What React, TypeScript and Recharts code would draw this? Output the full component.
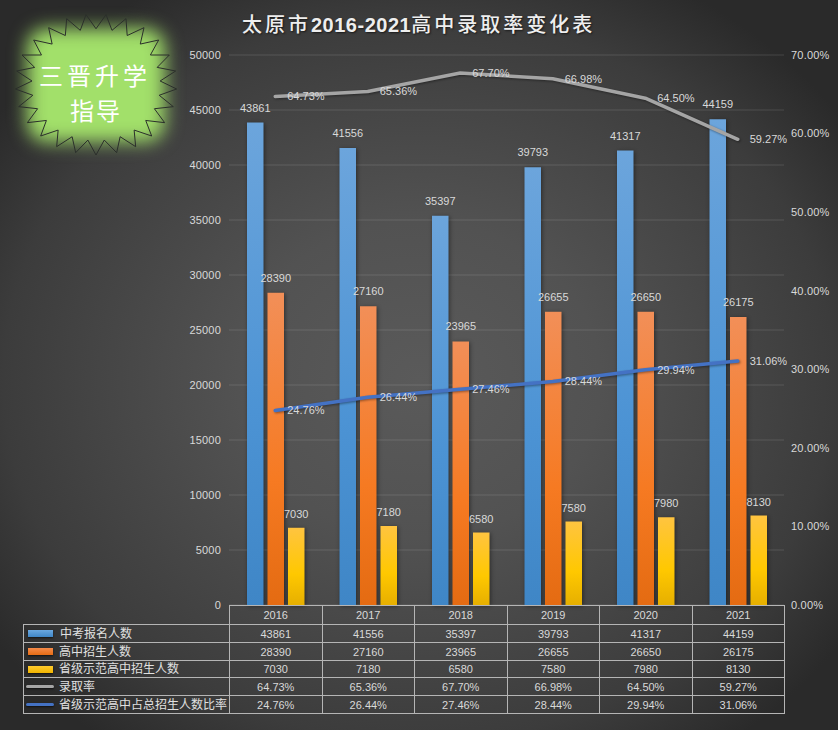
import React from 'react';
import { ComposedChart, Bar, Line, XAxis, YAxis, CartesianGrid, LabelList } from 'recharts';

const years = ['2016', '2017', '2018', '2019', '2020', '2021'];
const applicants = [43861, 41556, 35397, 39793, 41317, 44159];
const enrolled = [28390, 27160, 23965, 26655, 26650, 26175];
const provincial = [7030, 7180, 6580, 7580, 7980, 8130];
const admitRate = [64.73, 65.36, 67.7, 66.98, 64.5, 59.27];
const provincialShare = [24.76, 26.44, 27.46, 28.44, 29.94, 31.06];
const leftTicks = [0, 5000, 10000, 15000, 20000, 25000, 30000, 35000, 40000, 45000, 50000];
const rightTicks = [0, 10, 20, 30, 40, 50, 60, 70];
const starOuter = [
  [258, 44], [318, 44], [378, 56], [432, 83], [476, 120], [508, 165], [527, 213], [530, 267], [520, 320],
  [494, 368], [455, 408], [407, 440], [350, 458], [288, 465], [227, 458], [170, 440], [122, 408], [82, 368],
  [56, 320], [46, 267], [50, 213], [66, 165], [101, 120], [146, 83], [200, 56],
];

const chartData = years.map((year, i) => ({
  year,
  applicants: applicants[i],
  enrolled: enrolled[i],
  provincial: provincial[i],
  admitRate: admitRate[i],
  provincialShare: provincialShare[i],
}));

const FONT = '"Liberation Sans", "Noto Sans CJK SC", sans-serif';
const TEXT = '#d9d9d9';
const pct = (v: number) => `${v.toFixed(2)}%`;

const tableRows = [
  { name: '中考报名人数', kind: 'bar', css: 'linear-gradient(#6ba8e0,#3f86c6)', values: applicants.map(String) },
  { name: '高中招生人数', kind: 'bar', css: 'linear-gradient(#f58b4a,#e66c14)', values: enrolled.map(String) },
  { name: '省级示范高中招生人数', kind: 'bar', css: 'linear-gradient(#ffcb2e,#f0b400)', values: provincial.map(String) },
  { name: '录取率', kind: 'line', css: '#a5a5a5', values: admitRate.map(pct) },
  { name: '省级示范高中占总招生人数比率', kind: 'line', css: '#4472c4', values: provincialShare.map(pct) },
];
const rowHeights = [19, 18, 18, 17, 18, 18];

function Star() {
  const cx = 288, cy = 255;
  const pts: string[] = [];
  starOuter.forEach((p, i) => {
    const n = starOuter[(i + 1) % starOuter.length];
    pts.push(`${p[0] / 3},${p[1] / 3}`);
    const mx = cx + ((p[0] + n[0]) / 2 - cx) * 0.8;
    const my = cy + ((p[1] + n[1]) / 2 - cy) * 0.8;
    pts.push(`${mx / 3},${my / 3}`);
  });
  return (
    <>
      <div style={{ position: 'absolute', left: 27, top: 28, width: 138, height: 114, background: '#a2e06a', borderRadius: 20, filter: 'blur(9px)' }} />
      <svg width={200} height={170} style={{ position: 'absolute', left: 0, top: 0 }}>
        <polygon points={pts.join(' ')} fill="none" stroke="#2b2f2b" strokeWidth={1} />
      </svg>
      <div style={{ position: 'absolute', left: 0, width: 190, top: 60, textAlign: 'center', color: '#fff', fontSize: 24, lineHeight: '30px', letterSpacing: 4, fontFamily: '"Noto Sans CJK SC", sans-serif' }}>三晋升学</div>
      <div style={{ position: 'absolute', left: 0, width: 192, top: 95, textAlign: 'center', color: '#fff', fontSize: 24, lineHeight: '30px', letterSpacing: 2, fontFamily: '"Noto Sans CJK SC", sans-serif' }}>指导</div>
    </>
  );
}

function DataTable() {
  const cell: React.CSSProperties = { border: '1px solid #b5b5b5', padding: 0, textAlign: 'center', color: TEXT, fontSize: 11, lineHeight: '14px', fontFamily: FONT, boxSizing: 'border-box', whiteSpace: 'nowrap', overflow: 'hidden' };
  return (
    <table style={{ position: 'absolute', left: 23, top: 605, width: 761, borderCollapse: 'collapse', tableLayout: 'fixed' }}>
      <colgroup>
        <col style={{ width: 206 }} />
        {years.map((y) => <col key={y} style={{ width: 92.5 }} />)}
      </colgroup>
      <tbody>
        <tr style={{ height: rowHeights[0] }}>
          <td style={{ padding: 0, borderBottom: '1px solid #b5b5b5' }} />
          {years.map((y) => <td key={y} style={cell}>{y}</td>)}
        </tr>
        {tableRows.map((r, i) => (
          <tr key={r.name} style={{ height: rowHeights[i + 1] }}>
            <td style={{ ...cell, textAlign: 'left', fontSize: 12, position: 'relative', paddingLeft: 35 }}>
              <span style={{ position: 'absolute', left: r.kind === 'bar' ? 4 : 2, top: r.kind === 'bar' ? 5 : 7, width: r.kind === 'bar' ? 25 : 28, height: r.kind === 'bar' ? 7 : 3, borderRadius: r.kind === 'bar' ? 0 : 2, background: r.css, boxShadow: '0 1px 2px rgba(0,0,0,.6)' }} />
              <span style={{ marginLeft: i === 0 ? 1 : 0, color: '#e0e0e0' }}>{r.name}</span>
            </td>
            {r.values.map((v, j) => <td key={j} style={cell}>{v}</td>)}
          </tr>
        ))}
      </tbody>
    </table>
  );
}

const labelStyle = { fill: TEXT, fontSize: 11, fontFamily: FONT };
const tickStyle = { fill: TEXT, fontSize: 11, fontFamily: FONT, letterSpacing: 0.2 };

export default function App() {
  return (
    <div style={{ position: 'absolute', left: 0, top: 0, width: 838, height: 730, overflow: 'hidden', background: 'radial-gradient(ellipse 62% 62% at 50% 52%, #5a5a5a 0%, #525252 35%, #3c3c3c 80%, #2a2a2a 100%)' }}>
      <div style={{ position: 'absolute', left: 242, top: 10, whiteSpace: 'nowrap', color: '#eeeeee', fontSize: 20, fontWeight: 500, letterSpacing: 3, lineHeight: '28px', fontFamily: '"Noto Sans CJK SC", serif', textShadow: '1px 1px 2px rgba(0,0,0,.6)' }}>
        太原市<span style={{ fontFamily: '"Liberation Sans", sans-serif', fontWeight: 700, letterSpacing: 0.5 }}>2016-2021</span>高中录取率变化表
      </div>
      <Star />
      <div style={{ position: 'absolute', left: 0, top: 0 }}>
        <ComposedChart width={838} height={730} data={chartData} margin={{ top: 55, right: 0, bottom: 125, left: 169 }} barSize={16.5} barGap={4}>
          <defs>
            <linearGradient id="gBlue" x1="0" y1="0" x2="0" y2="1">
              <stop offset="0" stopColor="#6ca5dc" />
              <stop offset="0.6" stopColor="#4c93d4" />
              <stop offset="1" stopColor="#3f86c6" />
            </linearGradient>
            <linearGradient id="gOrange" x1="0" y1="0" x2="0" y2="1">
              <stop offset="0" stopColor="#f28f58" />
              <stop offset="0.6" stopColor="#f67a22" />
              <stop offset="1" stopColor="#e46b12" />
            </linearGradient>
            <linearGradient id="gYellow" x1="0" y1="0" x2="0" y2="1">
              <stop offset="0" stopColor="#ffc440" />
              <stop offset="0.6" stopColor="#ffc800" />
              <stop offset="1" stopColor="#e6af00" />
            </linearGradient>
          </defs>
          <CartesianGrid yAxisId="left" vertical={false} stroke="#ffffff" strokeOpacity={0.13} />
          <XAxis dataKey="year" hide height={0} />
          <YAxis yAxisId="left" width={60} domain={[0, 50000]} ticks={leftTicks} interval={0} axisLine={false} tickLine={false} tickSize={0} tickMargin={8} tick={tickStyle} />
          <YAxis yAxisId="right" orientation="right" width={54} domain={[0, 70]} ticks={rightTicks} interval={0} axisLine={false} tickLine={false} tickSize={0} tickMargin={7} tickFormatter={pct} tick={tickStyle} />
          <Bar yAxisId="left" dataKey="applicants" fill="url(#gBlue)" isAnimationActive={false} style={{ filter: 'drop-shadow(1px 1px 2px rgba(0,0,0,.45))' }}>
            <LabelList dataKey="applicants" position="top" offset={11} style={labelStyle} />
          </Bar>
          <Bar yAxisId="left" dataKey="enrolled" fill="url(#gOrange)" isAnimationActive={false} style={{ filter: 'drop-shadow(1px 1px 2px rgba(0,0,0,.45))' }}>
            <LabelList dataKey="enrolled" position="top" offset={11} style={labelStyle} />
          </Bar>
          <Bar yAxisId="left" dataKey="provincial" fill="url(#gYellow)" isAnimationActive={false} style={{ filter: 'drop-shadow(1px 1px 2px rgba(0,0,0,.45))' }}>
            <LabelList dataKey="provincial" position="top" offset={10} style={labelStyle} />
          </Bar>
          <Line yAxisId="right" type="linear" dataKey="admitRate" stroke="#a5a5a5" strokeWidth={3.5} strokeLinecap="round" strokeLinejoin="round" dot={false} isAnimationActive={false} style={{ filter: 'drop-shadow(1px 1px 1px rgba(0,0,0,.4))' }}>
            <LabelList dataKey="admitRate" position="right" offset={12} formatter={pct} style={labelStyle} />
          </Line>
          <Line yAxisId="right" type="linear" dataKey="provincialShare" stroke="#4472c4" strokeWidth={3.5} strokeLinecap="round" strokeLinejoin="round" dot={false} isAnimationActive={false} style={{ filter: 'drop-shadow(1px 1px 1px rgba(0,0,0,.4))' }}>
            <LabelList dataKey="provincialShare" position="right" offset={12} formatter={pct} style={labelStyle} />
          </Line>
        </ComposedChart>
      </div>
      <DataTable />
    </div>
  );
}
